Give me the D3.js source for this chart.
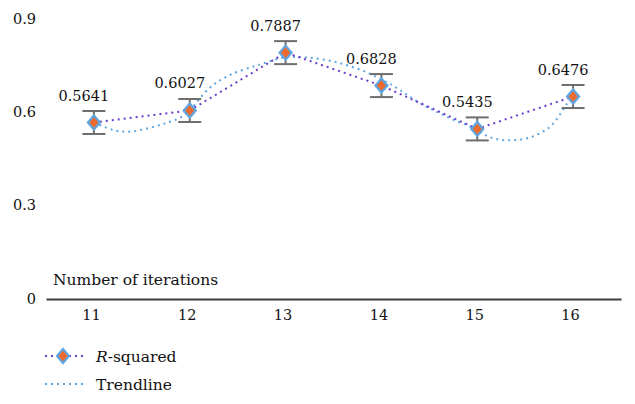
<!DOCTYPE html>
<html>
<head>
<meta charset="utf-8">
<script src="https://cdn.jsdelivr.net/npm/d3@7"></script>
<style>
  html, body { margin: 0; padding: 0; background: #fff; }
  svg { display: block; }
</style>
</head>
<body>
<div id="chart"></div>
<script>
// ---- data ----
const iterations = [11, 12, 13, 14, 15, 16];
const rSquared = [0.5641, 0.6027, 0.7887, 0.6828, 0.5435, 0.6476];
const errorMargin = [0.037, 0.037, 0.037, 0.037, 0.037, 0.037];
const yTicks = [0, 0.3, 0.6, 0.9];
const yTickLabels = ["0", "0.3", "0.6", "0.9"];
// trendline (x in iterations, y value)
const trendX = [11.00, 11.20, 11.38, 11.58, 11.76, 11.90, 12.00, 12.21, 12.42, 12.73, 13.00, 13.23, 13.54, 13.85, 14.00, 14.09, 14.20, 14.33, 14.48, 14.61, 14.75, 14.89, 15.00, 15.07, 15.16, 15.26, 15.36, 15.47, 15.57, 15.68, 15.76, 15.83, 15.88, 15.93, 16.00];
const trendY = [0.565, 0.540, 0.535, 0.547, 0.563, 0.580, 0.604, 0.676, 0.717, 0.750, 0.774, 0.773, 0.757, 0.725, 0.702, 0.688, 0.667, 0.640, 0.613, 0.594, 0.573, 0.556, 0.540, 0.526, 0.514, 0.508, 0.507, 0.510, 0.518, 0.534, 0.550, 0.575, 0.598, 0.622, 0.646];
const seriesNames = ["R-squared", "Trendline"];
const xTitle = "Number of iterations";

// ---- layout ----
const W = 635, H = 404;
const FONT = "DejaVu Serif";
const svg = d3.select("#chart").append("svg").attr("width", W).attr("height", H);

const x = d3.scaleLinear().domain([10.5, 16.5]).range([46, 621]);
const y = d3.scaleLinear().domain([0, 0.9]).range([298, 18]);

const purple = "#6a3ccf";
const lightBlue = "#5ea6e0";
const orange = "#ed6a2e";
const errGrey = "#6e6e6e";
const fsNum = 14.5;
const fsText = 15.5;

// y tick labels (no axis line)
const yAxis = d3.axisLeft(y).tickValues(yTicks).tickSize(0).tickPadding(0)
  .tickFormat((d, i) => yTickLabels[i]);
const gy = svg.append("g").attr("transform", "translate(36,0)").call(yAxis)
  .attr("font-family", FONT).attr("font-size", fsNum);
gy.select(".domain").remove();
gy.selectAll("text").attr("fill", "#111").attr("dy", "0.35em");

// x axis
const xAxis = d3.axisBottom(x).tickValues(iterations).tickSize(0).tickPadding(11)
  .tickFormat(d3.format("d"));
const gx = svg.append("g").attr("transform", `translate(0,${y(0) + 1})`).call(xAxis)
  .attr("font-family", FONT).attr("font-size", fsNum);
gx.select(".domain").attr("stroke", "#3c3c3c").attr("stroke-width", 2);
gx.selectAll("text").attr("fill", "#111").attr("dx", "-3px");

// axis title
svg.append("text").attr("x", 53).attr("y", 285).attr("font-size", fsText)
  .attr("font-family", FONT).attr("fill", "#111").text(xTitle);

// trendline
const trendData = trendX.map((d, i) => [d, trendY[i]]);
svg.append("path")
  .datum(trendData)
  .attr("fill", "none")
  .attr("stroke", lightBlue)
  .attr("stroke-width", 2)
  .attr("stroke-dasharray", "2,4")
  .attr("d", d3.line().x(d => x(d[0])).y(d => y(d[1])).curve(d3.curveCatmullRom));

// r-squared line
const pts = iterations.map((d, i) => ({ it: d, v: rSquared[i], e: errorMargin[i] }));
svg.append("path")
  .datum(pts)
  .attr("fill", "none")
  .attr("stroke", purple)
  .attr("stroke-width", 2)
  .attr("stroke-dasharray", "2,4")
  .attr("d", d3.line().x(d => x(d.it)).y(d => y(d.v)));

// error bars
const eb = svg.append("g").attr("stroke", errGrey).attr("stroke-width", 2);
pts.forEach(d => {
  const cx = x(d.it), yt = y(d.v + d.e), yb = y(d.v - d.e);
  eb.append("line").attr("x1", cx).attr("x2", cx).attr("y1", yt).attr("y2", yb);
  eb.append("line").attr("x1", cx - 11.5).attr("x2", cx + 11.5).attr("y1", yt).attr("y2", yt);
  eb.append("line").attr("x1", cx - 11.5).attr("x2", cx + 11.5).attr("y1", yb).attr("y2", yb);
});

// markers
const diamond = "M0,-7L6,0L0,7L-6,0Z";
svg.append("g").selectAll("path").data(pts).join("path")
  .attr("d", diamond)
  .attr("transform", d => `translate(${x(d.it)},${y(d.v)})`)
  .attr("fill", orange)
  .attr("stroke", lightBlue)
  .attr("stroke-width", 2.2);

// data labels
svg.append("g").selectAll("text").data(pts).join("text")
  .attr("x", d => x(d.it) - 10)
  .attr("y", d => y(d.v) - 22)
  .attr("text-anchor", "middle")
  .attr("font-size", fsNum)
  .attr("font-family", FONT)
  .attr("fill", "#111")
  .text(d => d3.format(".4f")(d.v));

// legend
const lg = svg.append("g").attr("font-family", FONT).attr("fill", "#111");
lg.append("line").attr("x1", 45).attr("x2", 83).attr("y1", 356).attr("y2", 356)
  .attr("stroke", purple).attr("stroke-width", 2).attr("stroke-dasharray", "2,4");
lg.append("path").attr("d", diamond).attr("transform", "translate(63,356)")
  .attr("fill", orange).attr("stroke", lightBlue).attr("stroke-width", 2.2);
const t1 = lg.append("text").attr("x", 96).attr("y", 362).attr("font-size", fsText);
t1.append("tspan").attr("font-style", "italic").text(seriesNames[0].slice(0, 1));
t1.append("tspan").text(seriesNames[0].slice(1));
lg.append("line").attr("x1", 45).attr("x2", 83).attr("y1", 384).attr("y2", 384)
  .attr("stroke", lightBlue).attr("stroke-width", 2).attr("stroke-dasharray", "2,4");
lg.append("text").attr("x", 96).attr("y", 390).attr("font-size", fsText).text(seriesNames[1]);
</script>
</body>
</html>
